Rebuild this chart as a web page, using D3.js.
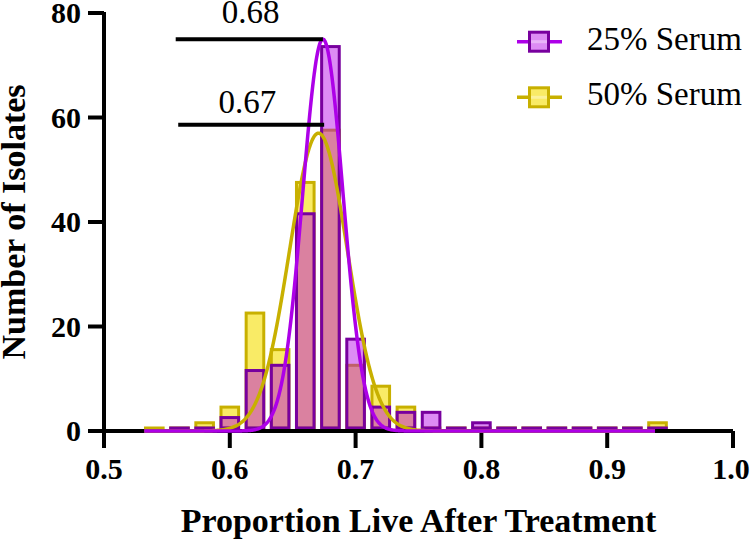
<!DOCTYPE html>
<html>
<head>
<meta charset="utf-8">
<script src="https://cdn.jsdelivr.net/npm/d3@7"></script>
<style>
  html, body { margin: 0; padding: 0; background: #fff; }
  svg { display: block; }
  text { font-family: "Liberation Serif", "Times New Roman", serif; fill: #000; }
</style>
</head>
<body>
<svg id="chart" width="750" height="542"></svg>
<script>
// ---- data ----
const bins = [0.54,0.56,0.58,0.60,0.62,0.64,0.66,0.68,0.70,0.72,0.74,0.76,0.78,0.80,0.82,0.84,0.86,0.88,0.90,0.92,0.94];
const serum25 = [null,0,0,2,11,12,41,73,17,4,3,3,0,1,0,0,0,0,0,0,0];
const serum50 = [0,0,1,4,22,15,47,57,12,8,4,0,0,0,0,0,0,0,0,0,1];
const seriesNames = ["25% Serum", "50% Serum"];
const fitAmp = [75, 57];
const fitMean = [0.674, 0.6705];
const fitSD = [0.016, 0.023];
const fitRange = [0.532, 0.938];
const annotLabels = ["0.68", "0.67"];
const annotY = [75, 58.6];
const annotX0 = [0.557, 0.559];
const annotX1 = [0.674, 0.675];
const annotTextX = [0.6165, 0.614];
const annotTextY = [78.0, 60.8];
const xTicks = [0.5, 0.6, 0.7, 0.8, 0.9, 1.0];
const yTicks = [0, 20, 40, 60, 80];

// ---- styles ----
const fills = ["rgba(180,0,230,0.45)", "rgba(245,222,0,0.6)"];
const strokes = ["#78009e", "#c8b000"];
const curveColors = ["#ad00e8", "#c8b000"];

const svg = d3.select("#chart");
const x = d3.scaleLinear().domain([0.5, 1.0]).range([104, 733]);
const y = d3.scaleLinear().domain([0, 80]).range([431, 13]);

const binW = (x(0.02) - x(0)) * 0.7;
const barOffset = 3;

function drawBars(vals, i) {
  const data = bins.map((b, k) => ({b, v: vals[k]})).filter(d => d.v !== null);
  svg.append("g").selectAll("rect").data(data).join("rect")
    .attr("x", d => x(d.b) - binW / 2)
    .attr("y", d => y(d.v) - barOffset)
    .attr("width", binW)
    .attr("height", d => Math.max(y(0) - y(d.v), 0.01))
    .attr("fill", fills[i])
    .attr("stroke", strokes[i])
    .attr("stroke-width", 3);
}
drawBars(serum50, 1);
drawBars(serum25, 0);

// axes
const axisW = 4;
svg.append("line").attr("x1", x(0.5)).attr("x2", x(1.0)).attr("y1", y(0)).attr("y2", y(0))
  .attr("stroke", "#000").attr("stroke-width", axisW);
svg.append("line").attr("x1", x(0.5)).attr("x2", x(0.5)).attr("y1", y(80) - 1).attr("y2", y(0) + 2)
  .attr("stroke", "#000").attr("stroke-width", axisW);
svg.append("g").selectAll("line").data(xTicks).join("line")
  .attr("x1", d => x(d)).attr("x2", d => x(d)).attr("y1", y(0)).attr("y2", y(0) + 17)
  .attr("stroke", "#000").attr("stroke-width", axisW);
svg.append("g").selectAll("line").data(yTicks).join("line")
  .attr("x1", x(0.5) - 16).attr("x2", x(0.5)).attr("y1", d => y(d)).attr("y2", d => y(d))
  .attr("stroke", "#000").attr("stroke-width", axisW);

svg.append("g").selectAll("text").data(xTicks).join("text")
  .attr("x", d => x(d)).attr("y", 479)
  .attr("dx", (d, k) => k === xTicks.length - 1 ? -2 : 0)
  .attr("text-anchor", "middle")
  .attr("font-weight", "bold").attr("font-size", 30)
  .text(d => d.toFixed(1));
svg.append("g").selectAll("text").data(yTicks).join("text")
  .attr("x", 81).attr("y", d => y(d) + 10)
  .attr("text-anchor", "end")
  .attr("font-weight", "bold").attr("font-size", 30)
  .text(d => d);

svg.append("text").attr("x", (x(0.5) + x(1.0)) / 2).attr("y", 532)
  .attr("text-anchor", "middle").attr("font-weight", "bold").attr("font-size", 34)
  .text("Proportion Live After Treatment");
svg.append("text").attr("transform", `translate(25,${(y(0) + y(80)) / 2}) rotate(-90)`)
  .attr("text-anchor", "middle").attr("font-weight", "bold").attr("font-size", 34)
  .text("Number of Isolates");

// fitted gaussian curves
const xs = d3.range(fitRange[0], fitRange[1] + 1e-9, 0.0005);
const line = d3.line().x(d => x(d[0])).y(d => y(d[1])).curve(d3.curveLinear);
[1, 0].forEach(i => {
  const pts = xs.map(t => [t, fitAmp[i] * Math.exp(-0.5 * Math.pow((t - fitMean[i]) / fitSD[i], 2))]);
  svg.append("path").datum(pts).attr("d", line)
    .attr("fill", "none").attr("stroke", curveColors[i]).attr("stroke-width", 3.5)
    .attr("stroke-linejoin", "round");
});

// annotation lines
annotLabels.forEach((lab, i) => {
  svg.append("line").attr("x1", x(annotX0[i])).attr("x2", x(annotX1[i]))
    .attr("y1", y(annotY[i])).attr("y2", y(annotY[i]))
    .attr("stroke", "#000").attr("stroke-width", 4);
  svg.append("text").attr("x", x(annotTextX[i])).attr("y", y(annotTextY[i]))
    .attr("text-anchor", "middle").attr("font-size", 33).text(lab);
});

// legend
const legY = [41.7, 97.3];
seriesNames.forEach((name, i) => {
  const g = svg.append("g");
  g.append("line").attr("x1", 517).attr("x2", 562).attr("y1", legY[i]).attr("y2", legY[i])
    .attr("stroke", curveColors[i]).attr("stroke-width", 3.5);
  g.append("rect").attr("x", 529.5).attr("y", legY[i] - 9.5).attr("width", 19).attr("height", 19)
    .attr("fill", "#fff").attr("stroke", "none");
  g.append("rect").attr("x", 529.5).attr("y", legY[i] - 9.5).attr("width", 19).attr("height", 19)
    .attr("fill", fills[i]).attr("stroke", strokes[i]).attr("stroke-width", 3);
  g.append("rect").attr("x", 531).attr("y", legY[i] - 1.5).attr("width", 16).attr("height", 3)
    .attr("fill", "rgba(255,255,255,0.35)");
  g.append("text").attr("x", 587).attr("y", legY[i] + 8).attr("font-size", 33).text(name);
});
</script>
</body>
</html>
